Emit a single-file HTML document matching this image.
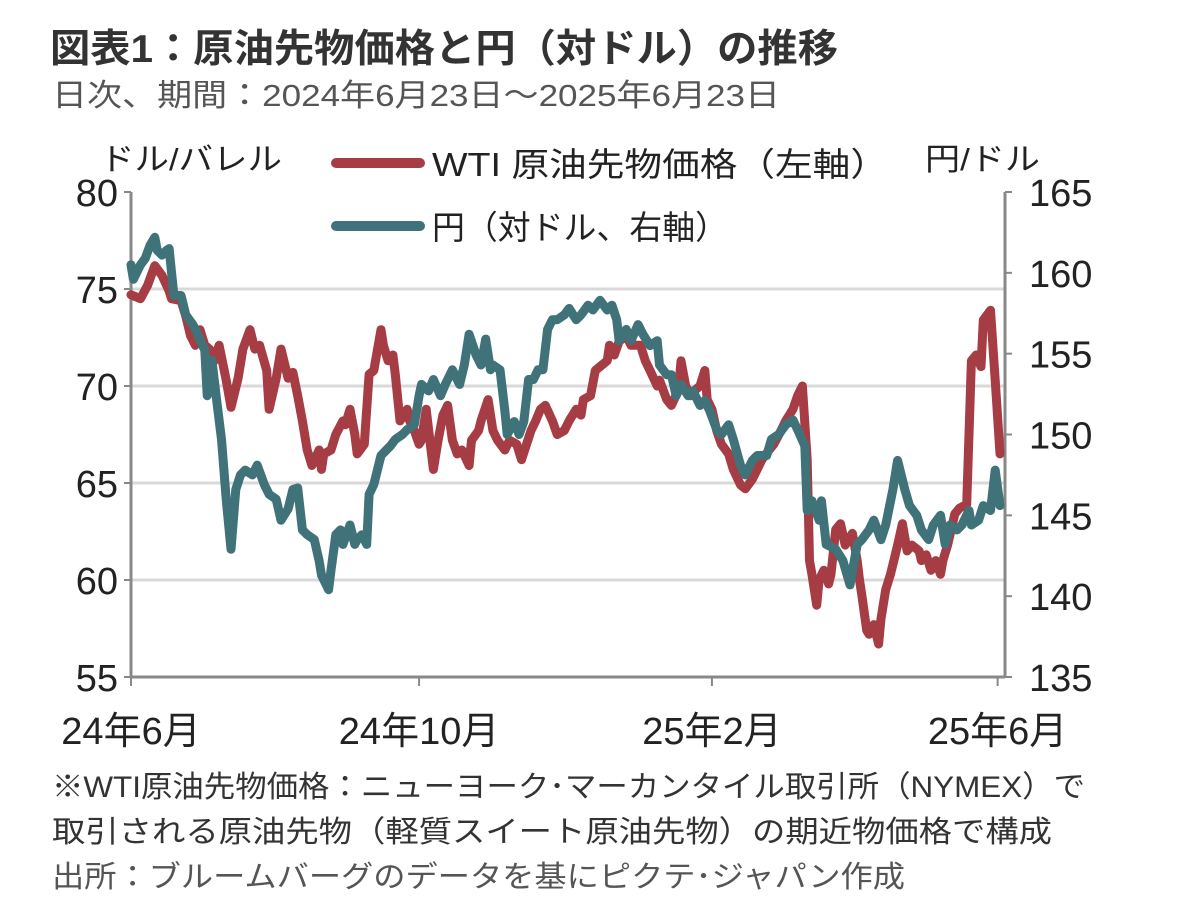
<!DOCTYPE html>
<html><head><meta charset="utf-8"><style>
body{margin:0;background:#fff;font-family:"Liberation Sans","Noto Sans CJK JP",sans-serif}
</style></head><body>
<svg width="1182" height="903" xmlns="http://www.w3.org/2000/svg" font-family="Liberation Sans, Noto Sans CJK JP, sans-serif">
<text x="50" y="62" font-size="39" font-weight="bold" fill="#333" textLength="788" lengthAdjust="spacingAndGlyphs">図表1：原油先物価格と円（対ドル）の推移</text>
<text x="52" y="106" font-size="31" fill="#555" textLength="728" lengthAdjust="spacingAndGlyphs">日次、期間：2024年6月23日～2025年6月23日</text>
<text x="100" y="170" font-size="31" fill="#222" textLength="182" lengthAdjust="spacingAndGlyphs">ドル/バレル</text>
<text x="925" y="170" font-size="31" fill="#222" textLength="115" lengthAdjust="spacingAndGlyphs">円/ドル</text>
<g id="grid"></g>
<g id="axes"></g>
<g id="series"></g>
<g>
<line x1="336" y1="163" x2="420" y2="163" stroke="#a63d45" stroke-width="10" stroke-linecap="round"/>
<text x="432" y="176" font-size="33" fill="#222" textLength="456" lengthAdjust="spacingAndGlyphs">WTI 原油先物価格（左軸）</text>
<line x1="336" y1="226" x2="420" y2="226" stroke="#3f7379" stroke-width="10" stroke-linecap="round"/>
<text x="432" y="239" font-size="33" fill="#222" textLength="296" lengthAdjust="spacingAndGlyphs">円（対ドル、右軸）</text>
</g>
<text x="52" y="797" font-size="30" fill="#333" textLength="1033" lengthAdjust="spacingAndGlyphs">※WTI原油先物価格：ニューヨーク･マーカンタイル取引所（NYMEX）で</text>
<text x="52" y="842" font-size="30" fill="#333" textLength="1000" lengthAdjust="spacingAndGlyphs">取引される原油先物（軽質スイート原油先物）の期近物価格で構成</text>
<text x="52" y="887" font-size="30" fill="#555" textLength="853" lengthAdjust="spacingAndGlyphs">出所：ブルームバーグのデータを基にピクテ･ジャパン作成</text>
</svg>
<script>
const leftTicks=[55,60,65,70,75,80];
const rightTicks=[135,140,145,150,155,160,165];
const xTickDays=[0,121,244,364];
const xTickLabels=["24年6月","24年10月","25年2月","25年6月"];
const wtiDays=[0,4,7,10,13,16,17,21,23,25,27,29,31,33,35,37,40,42,45,47,50,52,54,57,58,61,63,66,68,70,72,74,76,79,80,81,84,86,89,90,92,94,95,98,100,102,105,106,108,110,111,113,116,117,119,121,122,124,126,127,129,131,133,135,137,139,142,143,146,147,150,152,154,157,159,162,164,168,170,172,174,177,179,182,184,187,189,190,193,195,197,200,201,203,205,208,210,214,216,218,221,222,225,227,230,231,233,235,237,239,241,242,244,246,248,251,253,256,258,261,263,265,268,270,273,275,278,280,282,284,285,286,288,289,291,293,294,296,298,300,303,305,306,307,309,310,312,314,315,317,319,320,322,324,326,328,331,332,334,336,338,340,341,343,346,348,351,353,355,357,358,361,363,365];
const wtiValues=[74.7,74.5,75.2,76.2,75.7,74.9,74.5,74.4,73.6,72.6,72.1,72.9,72.1,71.9,71.3,72.1,70.3,68.9,70.4,71.9,72.9,71.9,72.1,70.8,68.8,70.4,71.9,70.4,70.7,69.5,68.2,66.7,65.9,66.7,65.7,66.5,66.7,67.5,68.2,68.0,68.8,67.5,66.5,67.0,70.6,70.8,72.9,72.1,71.3,71.6,70.6,68.2,68.8,68.2,67.7,67.0,67.2,68.8,66.7,65.7,67.2,68.5,69.0,67.2,66.5,66.7,65.9,67.2,67.7,68.2,69.3,67.7,67.2,66.7,67.2,67.0,66.2,67.7,68.2,68.8,69.0,68.2,67.5,67.7,68.2,68.8,68.5,69.3,69.5,70.8,71.0,71.3,72.1,71.6,72.3,72.6,72.1,72.1,71.3,70.8,70.0,70.3,69.3,69.0,69.8,71.3,70.0,69.5,69.8,70.0,70.8,69.3,68.8,67.7,67.0,66.5,65.7,64.9,64.7,65.2,65.7,66.2,66.7,67.0,67.7,68.2,68.8,69.5,70.0,66.2,61.0,60.3,58.7,60.0,60.5,59.8,60.3,62.6,62.9,61.8,62.4,61.0,60.0,59.2,57.4,57.2,57.7,56.7,58.0,59.5,60.3,60.8,61.8,62.9,61.5,61.8,61.5,61.0,61.3,60.5,61.0,60.3,61.0,61.8,63.4,63.7,63.9,71.3,71.6,71.0,73.4,73.9,70.3,66.5];
const yenDays=[0,1,4,6,8,10,11,13,15,16,18,21,23,26,28,31,32,34,36,38,40,42,44,46,48,51,53,56,58,61,63,66,68,70,72,74,77,79,80,83,84,86,88,89,92,94,95,97,99,100,102,104,105,107,109,111,114,116,119,121,122,125,127,130,132,135,137,138,140,142,145,147,149,151,152,155,157,158,161,163,165,167,169,171,173,175,177,179,182,184,187,189,192,194,197,200,202,204,205,208,210,213,215,218,221,222,225,227,229,231,234,236,239,241,243,246,248,251,253,256,258,261,263,265,267,269,272,275,278,280,283,284,286,289,290,292,296,299,302,305,307,310,312,315,317,320,322,325,327,330,332,335,337,340,342,344,347,349,352,353,356,358,361,363,365];
const yenValues=[160.5,159.6,160.5,160.9,161.7,162.2,161.4,161.1,161.4,161.5,158.6,158.6,157.4,156.8,156.2,155.2,152.4,154.6,152.1,149.7,146.0,142.9,146.6,147.5,147.8,147.5,148.1,146.9,146.3,146.0,144.7,145.4,146.6,146.7,144.1,143.8,143.5,142.2,141.3,140.4,141.6,143.8,144.1,143.2,144.4,143.2,143.5,143.8,143.2,146.3,146.9,148.1,148.7,149.0,149.3,149.7,150.0,150.3,150.6,152.4,153.1,152.7,153.4,152.4,153.1,154.0,153.4,153.1,154.3,156.2,154.9,154.3,155.9,154.0,154.3,154.0,151.5,150.0,150.8,150.0,150.8,153.4,153.4,154.0,154.0,156.5,157.1,157.1,157.4,157.8,157.1,157.4,158.0,157.7,158.3,157.7,158.0,157.1,155.8,156.5,155.8,156.8,156.2,155.5,155.8,154.3,153.7,153.7,152.4,153.1,152.4,152.7,151.8,152.1,151.5,150.3,150.0,150.6,149.7,148.1,147.5,148.4,148.7,148.7,148.7,149.7,150.0,150.6,150.9,150.3,149.3,145.3,145.9,144.7,145.9,143.2,142.9,142.2,140.7,143.2,143.5,144.1,144.7,143.5,144.4,146.6,148.4,146.6,145.6,145.0,144.1,143.5,144.4,145.0,143.2,144.4,144.1,144.4,145.3,144.4,144.7,145.6,145.3,147.8,145.6];

const NS="http://www.w3.org/2000/svg";
const X0=131,X1=1000,YT=192,YB=677;
const xs=d=>X0+(X1-X0)*d/365;
const yL=v=>YB-(v-55)/(80-55)*(YB-YT);
const yR=v=>YB-(v-135)/(165-135)*(YB-YT);
function mk(tag,attrs,parent){const e=document.createElementNS(NS,tag);for(const k in attrs)e.setAttribute(k,attrs[k]);parent.appendChild(e);return e;}
const grid=document.getElementById('grid'),axes=document.getElementById('axes'),series=document.getElementById('series');
leftTicks.forEach(v=>{
  if(v>55&&v<80){const g=mk('line',{x1:X0,x2:1005,y1:yL(v),y2:yL(v),stroke:'#d9d9d9','stroke-width':3},grid);
  
  }
  const t=mk('text',{x:118,y:yL(v)+14,'font-size':38,'text-anchor':'end',fill:'#222'},axes);t.textContent=v;
  
  
  const m=mk('line',{x1:124,x2:131,y1:yL(v),y2:yL(v),stroke:'#888','stroke-width':2},axes);
  
  
});
rightTicks.forEach(v=>{
  const t=mk('text',{x:1029,y:yR(v)+14,'font-size':38,fill:'#222'},axes);t.textContent=v;
  
  
  const m=mk('line',{x1:1005,x2:1012,y1:yR(v),y2:yR(v),stroke:'#888','stroke-width':2},axes);
  
  
});
xTickDays.forEach((d,i)=>{
  const m=mk('line',{x1:xs(d),x2:xs(d),y1:YB,y2:YB+9,stroke:'#888','stroke-width':2},axes);
  
  
  const t=mk('text',{x:xs(d),y:744,'font-size':38,'text-anchor':'middle',fill:'#222'},axes);t.textContent=xTickLabels[i];
  
  
});
let a=mk('line',{x1:X0,x2:X0,y1:YT,y2:YB,stroke:'#888','stroke-width':3},axes);


a=mk('line',{x1:1005,x2:1005,y1:YT,y2:YB,stroke:'#888','stroke-width':3},axes);


a=mk('line',{x1:X0,x2:1005,y1:YB,y2:YB,stroke:'#888','stroke-width':3},axes);


function path(days,vals,yf,color,name){
  const d=days.map((t,i)=>(i?'L':'M')+xs(t).toFixed(1)+','+yf(vals[i]).toFixed(1)).join('');
  const p=mk('path',{d:d,fill:'none',stroke:color,'stroke-width':9,'stroke-linejoin':'round','stroke-linecap':'round'},series);
  
  
}
path(wtiDays,wtiValues,yL,'#a63d45','wti-line');
path(yenDays,yenValues,yR,'#3f7379','yen-line');
</script>
</body></html>
